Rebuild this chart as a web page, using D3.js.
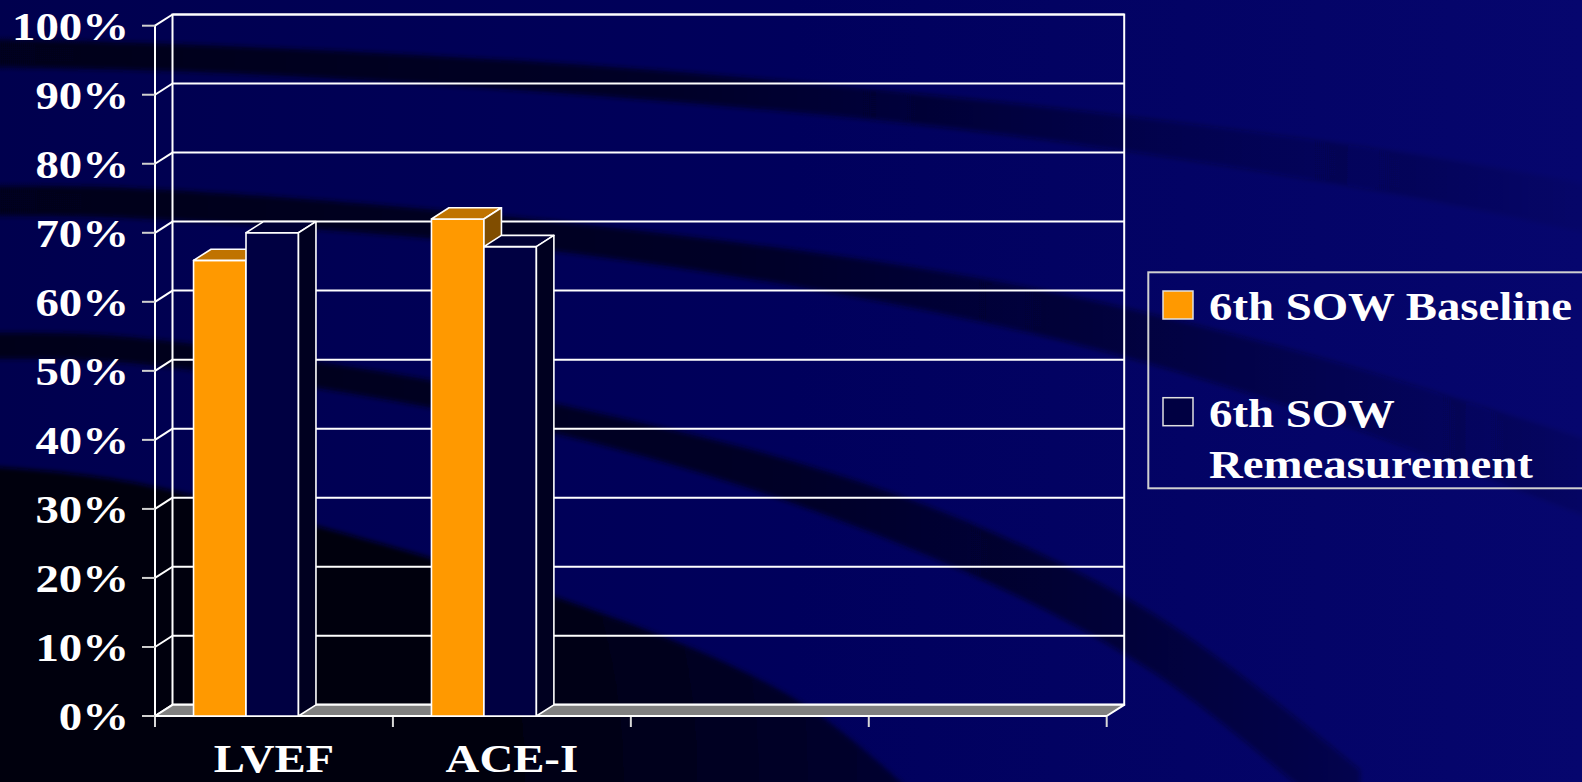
<!DOCTYPE html>
<html>
<head>
<meta charset="utf-8">
<script src="https://cdn.jsdelivr.net/npm/d3@7"></script>
<style>
  html, body { margin: 0; padding: 0; background: #000060; overflow: hidden; }
  svg { display: block; }
  text { font-family: "Liberation Serif", "Times New Roman", serif; font-weight: bold; fill: #ffffff; }
</style>
</head>
<body>
<svg id="chart" width="1582" height="782"></svg>
<script>
// ---- data ----
const categories = ["LVEF", "ACE-I", "", ""];
const seriesNames = ["6th SOW Baseline", "6th SOW Remeasurement"];
const baselineValues = [0.66, 0.72];
const remeasureValues = [0.70, 0.68];
const yTicks = [0, 0.1, 0.2, 0.3, 0.4, 0.5, 0.6, 0.7, 0.8, 0.9, 1.0];

// ---- styling ----
const W = 1582, H = 782;
const seriesColors = [
  { front: "#ff9900", top: "#c07300", side: "#804d00" },
  { front: "#000042", top: "#000034", side: "#000020" }
];
const depth = { dx: 17.5, dy: -11.2 };
const textStretch = 1.17;

const svg = d3.select("#chart");
const defs = svg.append("defs");

// ---- background: navy slide with dark sweeping bands ----
const bgGrad = defs.append("linearGradient").attr("id", "bgGrad")
  .attr("x1", 0).attr("y1", 0).attr("x2", 1).attr("y2", 0);
bgGrad.append("stop").attr("offset", 0).attr("stop-color", "#00004e");
bgGrad.append("stop").attr("offset", 0.5).attr("stop-color", "#00005c");
bgGrad.append("stop").attr("offset", 1).attr("stop-color", "#06066e");
svg.append("rect").attr("width", W).attr("height", H).attr("fill", "url(#bgGrad)");

const blur = defs.append("filter").attr("id", "soft")
  .attr("x", "-10%").attr("y", "-10%").attr("width", "120%").attr("height", "120%");
blur.append("feGaussianBlur").attr("stdDeviation", 2.5);

function bandGradient(id, dark, fadeAt, endOpacity) {
  const g = defs.append("linearGradient").attr("id", id)
    .attr("gradientUnits", "userSpaceOnUse")
    .attr("x1", 0).attr("y1", 0).attr("x2", W).attr("y2", 0);
  g.append("stop").attr("offset", 0).attr("stop-color", dark).attr("stop-opacity", 0.95);
  g.append("stop").attr("offset", fadeAt * 0.55).attr("stop-color", dark).attr("stop-opacity", 0.8);
  g.append("stop").attr("offset", fadeAt).attr("stop-color", dark).attr("stop-opacity", 0.3);
  g.append("stop").attr("offset", 1).attr("stop-color", dark).attr("stop-opacity", endOpacity);
}
bandGradient("band1", "#00001a", 0.75, 0.05);
bandGradient("band2", "#00001a", 0.85, 0.1);
bandGradient("band3", "#000018", 0.9, 0.12);

const bandArea = d3.area()
  .x(d => d[0]).y0(d => d[1]).y1(d => d[2])
  .curve(d3.curveCatmullRom);

const bands = [
  { id: "band1", pts: [[-20, 39, 67], [200, 45, 72], [600, 66, 96], [1000, 102, 134], [1400, 152, 195], [1620, 190, 240]] },
  { id: "band2", pts: [[-20, 186, 216], [130, 188, 218], [570, 223, 253], [1000, 282, 326], [1300, 352, 410], [1620, 450, 530]] },
  { id: "band3", pts: [[-20, 333, 359], [130, 337, 363], [570, 407, 437], [900, 496, 544], [1150, 612, 670], [1360, 770, 840]] }
];
const bg = svg.append("g").attr("filter", "url(#soft)");
bands.forEach(b => {
  bg.append("path").attr("d", bandArea(b.pts)).attr("fill", `url(#${b.id})`);
});

// dark lower-left corner
const cornerGrad = defs.append("radialGradient").attr("id", "corner")
  .attr("gradientUnits", "userSpaceOnUse")
  .attr("cx", 0).attr("cy", H).attr("r", 900);
cornerGrad.append("stop").attr("offset", 0).attr("stop-color", "#000008");
cornerGrad.append("stop").attr("offset", 0.55).attr("stop-color", "#00000f");
cornerGrad.append("stop").attr("offset", 1).attr("stop-color", "#000030");
const cornerArea = d3.area()
  .x(d => d[0]).y0(d => d[1]).y1(H + 40)
  .curve(d3.curveCatmullRom);
bg.append("path")
  .attr("d", cornerArea([[-20, 466], [130, 482], [570, 602], [800, 702], [920, 800]]))
  .attr("fill", "url(#corner)");

// ---- scales ----
const plot = { left: 155, right: 1106.7, top: 25.7, bottom: 716 };
const y = d3.scaleLinear().domain([0, 1]).range([plot.bottom, plot.top]);
const x = d3.scaleBand().domain(d3.range(categories.length)).range([plot.left, plot.right]);
const slotW = x.bandwidth();
const xInner = d3.scaleBand().domain([0, 1]).range([slotW * 0.162, slotW * 0.603]);

const gridColor = "#ffffff";
const g = svg.append("g");

// back wall outline and gridlines
const backLeft = plot.left + depth.dx, backRight = plot.right + depth.dx;
g.append("rect")
  .attr("x", backLeft).attr("y", y(1) + depth.dy)
  .attr("width", backRight - backLeft).attr("height", y(0) - y(1))
  .attr("fill", "none").attr("stroke", gridColor).attr("stroke-width", 2);
g.selectAll(".grid").data(yTicks).join("line").attr("class", "grid")
  .attr("x1", backLeft).attr("x2", backRight)
  .attr("y1", d => y(d) + depth.dy).attr("y2", d => y(d) + depth.dy)
  .attr("stroke", gridColor).attr("stroke-width", 2);

// side wall diagonals
g.selectAll(".wall").data(yTicks).join("line").attr("class", "wall")
  .attr("x1", plot.left).attr("y1", d => y(d))
  .attr("x2", backLeft).attr("y2", d => y(d) + depth.dy)
  .attr("stroke", gridColor).attr("stroke-width", 2);
g.append("line")
  .attr("x1", plot.left).attr("x2", plot.left)
  .attr("y1", y(1)).attr("y2", y(0) + 1)
  .attr("stroke", gridColor).attr("stroke-width", 2);

// floor
g.append("path")
  .attr("d", `M${plot.left},${y(0)} L${backLeft},${y(0) + depth.dy} L${backRight},${y(0) + depth.dy} L${plot.right},${y(0)} Z`)
  .attr("fill", "#808080").attr("stroke", gridColor).attr("stroke-width", 2).attr("stroke-linejoin", "round");

// y axis ticks and labels
g.selectAll(".ytick").data(yTicks).join("line").attr("class", "ytick")
  .attr("x1", plot.left - 13).attr("x2", plot.left)
  .attr("y1", d => y(d)).attr("y2", d => y(d))
  .attr("stroke", "#d0d0d0").attr("stroke-width", 2);
g.selectAll(".ylab").data(yTicks).join("text").attr("class", "ylab")
  .attr("transform", d => `translate(129,${y(d) + 14}) scale(${textStretch},1)`)
  .attr("text-anchor", "end").attr("font-size", 40)
  .text(d => d3.format(".0%")(d));

// x axis ticks and labels
const xEdges = d3.range(categories.length).map(i => x(i)).concat([plot.right]);
g.selectAll(".xtick").data(xEdges).join("line").attr("class", "xtick")
  .attr("x1", d => d).attr("x2", d => d)
  .attr("y1", y(0)).attr("y2", y(0) + 11)
  .attr("stroke", "#d8d8d8").attr("stroke-width", 2);
g.append("line")
  .attr("x1", plot.left).attr("x2", plot.right)
  .attr("y1", y(0)).attr("y2", y(0))
  .attr("stroke", gridColor).attr("stroke-width", 2);
g.selectAll(".xlab").data(categories).join("text").attr("class", "xlab")
  .attr("transform", (d, i) => `translate(${x(i) + slotW / 2},772) scale(${textStretch},1)`)
  .attr("text-anchor", "middle").attr("font-size", 40)
  .text(d => d);

// ---- 3D columns ----
const bars = [];
categories.forEach((c, i) => {
  [baselineValues, remeasureValues].forEach((vals, s) => {
    if (vals[i] !== undefined) bars.push({ cat: i, s, v: vals[i] });
  });
});
const barG = svg.append("g").attr("stroke", "#ffffff").attr("stroke-width", 1.6).attr("stroke-linejoin", "round");
bars.forEach(b => {
  const x0 = x(b.cat) + xInner(b.s);
  const x1 = x0 + xInner.bandwidth();
  const yt = y(b.v), yb = y(0);
  const { dx, dy } = depth;
  const col = seriesColors[b.s];
  barG.append("path")
    .attr("d", `M${x0},${yb} L${x0},${yt} L${x1},${yt} L${x1},${yb} Z`)
    .attr("fill", col.front);
  barG.append("path")
    .attr("d", `M${x0},${yt} L${x0 + dx},${yt + dy} L${x1 + dx},${yt + dy} L${x1},${yt} Z`)
    .attr("fill", col.top);
  barG.append("path")
    .attr("d", `M${x1},${yt} L${x1 + dx},${yt + dy} L${x1 + dx},${yb + dy} L${x1},${yb} Z`)
    .attr("fill", col.side);
});

// ---- legend ----
const lg = svg.append("g");
lg.append("rect")
  .attr("x", 1148.3).attr("y", 272.3).attr("width", 500).attr("height", 216)
  .attr("fill", "none").attr("stroke", "#d0d0d0").attr("stroke-width", 2);
const legendRows = [
  { lines: ["6th SOW Baseline"], y: 320 },
  { lines: ["6th SOW", "Remeasurement"], y: 426.7 }
];
legendRows.forEach((row, s) => {
  lg.append("rect")
    .attr("x", 1163).attr("y", row.y - 29).attr("width", 30).attr("height", 28)
    .attr("fill", seriesColors[s].front).attr("stroke", "#e0e0e0").attr("stroke-width", 1.5);
  row.lines.forEach((t, k) => {
    lg.append("text")
      .attr("transform", `translate(1209,${row.y + k * 51.6}) scale(${textStretch},1)`)
      .attr("font-size", 40)
      .text(t);
  });
});
</script>
</body>
</html>
